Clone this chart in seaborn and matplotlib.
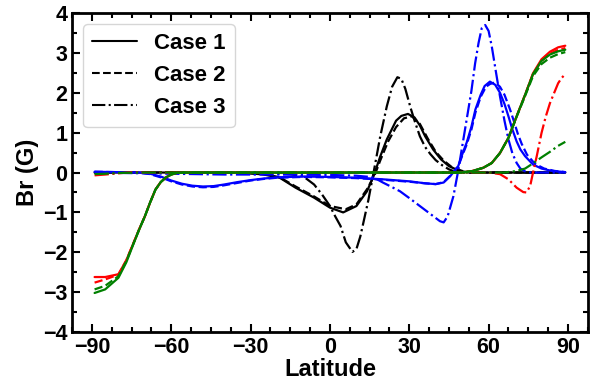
import numpy as np
import pandas as pd
import matplotlib
matplotlib.use("Agg")
import matplotlib.pyplot as plt
import seaborn as sns
from matplotlib.lines import Line2D
from matplotlib.ticker import MultipleLocator

# ---- data (latitude in degrees, Br in gauss) ----
# black
k1_lat = [-89, -40, -30, -25, -19, -13, -6, 0, 5, 10, 14, 16.5, 19, 21.5, 25, 27, 29.5, 32, 34, 36, 39, 42, 45, 49, 53, 89]
k1_br = [0, 0, -0.02, -0.05, -0.13, -0.38, -0.63, -0.88, -1.0, -0.84, -0.47, -0.09, 0.4, 0.83, 1.3, 1.42, 1.47, 1.38, 1.18, 0.91, 0.58, 0.33, 0.16, 0.04, 0.0, 0]
k2_lat = [-89, -35, -25, -19, -13, -6, 0, 6, 10, 14, 17, 19, 22, 25, 28, 31, 34, 37, 40, 43, 46, 50, 54, 89]
k2_br = [0, 0, -0.04, -0.12, -0.35, -0.6, -0.84, -0.92, -0.8, -0.42, -0.05, 0.3, 0.78, 1.14, 1.36, 1.41, 1.22, 0.85, 0.52, 0.3, 0.14, 0.04, 0, 0]
k3_lat = [-89, -25, -15, -10, -6, -3, 0, 2, 4, 6, 8.5, 10, 11.5, 13, 14.5, 16.5, 19, 21.5, 23.5, 25.5, 27, 28.5, 30.5, 32, 34, 36, 38, 40, 42.5, 45, 47, 50, 89]
k3_br = [0, 0, -0.04, -0.1, -0.3, -0.55, -0.84, -1.1, -1.34, -1.75, -1.99, -1.92, -1.6, -1.15, -0.7, 0.0, 0.9, 1.66, 2.15, 2.39, 2.35, 2.1, 1.62, 1.3, 0.91, 0.64, 0.46, 0.31, 0.18, 0.08, 0.03, 0, 0]

# blue
b1_lat = [-89, -72, -68, -64, -60, -56, -52, -48, -44, -40, -35, -30, -25, -20, -10, 0, 10, 20, 30, 36, 40, 43, 45.5, 48.5, 50, 51.7, 53.5, 55, 57, 58.5, 60.5, 62.5, 64.3, 66, 67.5, 69, 70.6, 72, 73.8, 76.8, 80, 84, 89]
b1_br = [0.02, 0.0, -0.03, -0.1, -0.2, -0.28, -0.33, -0.35, -0.34, -0.3, -0.24, -0.19, -0.15, -0.12, -0.1, -0.11, -0.13, -0.17, -0.22, -0.27, -0.29, -0.25, -0.09, 0.16, 0.45, 0.75, 1.15, 1.58, 1.95, 2.17, 2.28, 2.2, 2.0, 1.72, 1.41, 1.08, 0.78, 0.58, 0.41, 0.2, 0.1, 0.04, 0.01]
b2_lat = [-89, -72, -68, -64, -60, -56, -52, -48, -44, -40, -35, -30, -25, -20, -10, 0, 10, 20, 30, 36, 40, 43, 45.5, 48.5, 50, 51.7, 53.5, 55, 57, 59, 60.5, 62.5, 64.3, 66, 68, 69.5, 71, 72.5, 74.5, 77.5, 81, 85, 89]
b2_br = [0.02, 0.0, -0.04, -0.12, -0.22, -0.3, -0.35, -0.37, -0.36, -0.32, -0.26, -0.2, -0.16, -0.13, -0.11, -0.12, -0.14, -0.18, -0.23, -0.27, -0.29, -0.24, -0.08, 0.15, 0.42, 0.7, 1.08, 1.5, 1.9, 2.15, 2.22, 2.26, 2.15, 1.95, 1.6, 1.3, 0.98, 0.72, 0.45, 0.22, 0.1, 0.04, 0.01]
b3_lat = [-89, -60, -40, -20, 0, 10, 15, 17, 20, 23, 26.5, 30, 34, 38, 41.6, 43, 44.5, 46.7, 48.6, 50, 51.7, 53.5, 54.9, 56.2, 57.4, 58.7, 60, 61.2, 62.7, 64.3, 66, 67.5, 69, 70.6, 72, 73.8, 76, 89]
b3_br = [0.0, -0.03, -0.05, -0.05, -0.06, -0.08, -0.11, -0.14, -0.25, -0.35, -0.47, -0.64, -0.84, -1.04, -1.22, -1.25, -1.1, -0.59, 0.08, 0.65, 1.33, 2.05, 2.74, 3.25, 3.62, 3.7, 3.55, 3.16, 2.55, 1.91, 1.3, 0.83, 0.48, 0.24, 0.1, 0.03, 0.0, 0.0]

# red
r1_lat = [-89, -85, -80, -77, -74, -72, -70, -68, -66, -64, -62, -60, -58, -55, 50, 54, 58, 61.2, 64.3, 67.5, 70.6, 73.8, 76.8, 80, 83.2, 86.3, 89]
r1_br = [-2.62, -2.62, -2.55, -2.2, -1.72, -1.4, -1.1, -0.75, -0.43, -0.24, -0.12, -0.05, -0.01, 0, 0, 0.04, 0.12, 0.24, 0.49, 0.87, 1.41, 1.95, 2.49, 2.84, 3.03, 3.14, 3.18]
r2_lat = [-89, -85, -80, -77, -74, -72, -70, -68, -66, -64, -62, -60, -58, -55, 50, 54, 58, 61.2, 64.3, 67.5, 70.6, 73.8, 76.8, 80, 83.2, 86.3, 89]
r2_br = [-2.76, -2.68, -2.56, -2.2, -1.72, -1.4, -1.1, -0.75, -0.43, -0.24, -0.12, -0.05, -0.01, 0, 0, 0.04, 0.12, 0.24, 0.49, 0.87, 1.41, 1.95, 2.47, 2.8, 2.98, 3.08, 3.12]
r3_lat = [-89, -85, -80, -75, -70, 60, 64.3, 67.5, 70.6, 73.1, 74.3, 75.7, 76.8, 78.2, 80, 81.6, 83.2, 84.8, 86.3, 87.6, 89]
r3_br = [-0.07, -0.05, -0.02, 0.01, 0.0, 0.0, -0.04, -0.17, -0.38, -0.49, -0.5, -0.34, 0.0, 0.41, 0.99, 1.4, 1.74, 2.0, 2.24, 2.37, 2.47]

# green
g1_lat = [-89, -85, -80, -77, -74, -72, -70, -68, -66, -64, -62, -60, -58, -55, 50, 54, 58, 61.2, 64.3, 67.5, 70.6, 73.8, 76.8, 80, 83.2, 86.3, 89]
g1_br = [-3.02, -2.93, -2.64, -2.25, -1.74, -1.41, -1.1, -0.75, -0.43, -0.24, -0.12, -0.05, -0.01, 0, 0, 0.04, 0.12, 0.24, 0.49, 0.87, 1.41, 1.95, 2.47, 2.8, 2.96, 3.04, 3.08]
g2_lat = [-89, -85, -80, -77, -74, -72, -70, -68, -66, -64, -62, -60, -58, -55, 50, 54, 58, 61.2, 64.3, 67.5, 70.6, 73.8, 76.8, 80, 83.2, 86.3, 89]
g2_br = [-2.93, -2.84, -2.6, -2.22, -1.73, -1.4, -1.1, -0.75, -0.43, -0.24, -0.12, -0.05, -0.01, 0, 0, 0.04, 0.12, 0.24, 0.49, 0.87, 1.4, 1.92, 2.42, 2.72, 2.88, 2.97, 3.02]
g3_lat = [-89, -85, -80, -70, 66, 70.6, 73.8, 76.8, 80, 83.2, 86.3, 89]
g3_br = [-0.04, -0.03, -0.01, 0.0, 0.0, 0.04, 0.1, 0.23, 0.38, 0.52, 0.67, 0.77]

cases = ["Case 1", "Case 2", "Case 3"]
styles = ["-", "--", "-."]

curves = [
    ("k", [(k1_lat, k1_br), (k2_lat, k2_br), (k3_lat, k3_br)]),
    ("b", [(b1_lat, b1_br), (b2_lat, b2_br), (b3_lat, b3_br)]),
    ("r", [(r1_lat, r1_br), (r2_lat, r2_br), (r3_lat, r3_br)]),
    ("g", [(g1_lat, g1_br), (g2_lat, g2_br), (g3_lat, g3_br)]),
]

sns.set_style("ticks")
plt.rcParams['font.family'] = ['Liberation Sans', 'DejaVu Sans']
plt.rcParams['font.weight'] = 'bold'
plt.rcParams['axes.labelweight'] = 'bold'
# pure black text and ticks, like the original
plt.rcParams['text.color'] = 'k'
plt.rcParams['axes.labelcolor'] = 'k'
plt.rcParams['xtick.color'] = 'k'
plt.rcParams['ytick.color'] = 'k'

fig = plt.figure(figsize=(6.01, 3.83), dpi=100)
ax = fig.add_axes([0.12, 0.133, 0.858, 0.833])

for color, series in curves:
    for (lat, br), ls in zip(series, styles):
        sns.lineplot(x=lat, y=br, color=color, linestyle=ls, linewidth=1.6,
                     estimator=None, legend=False, ax=ax)

ax.set_xlim(-97.5, 97.5)
ax.set_ylim(-4, 4)
ax.xaxis.set_major_locator(MultipleLocator(30))
ax.xaxis.set_minor_locator(MultipleLocator(7.5))
ax.yaxis.set_major_locator(MultipleLocator(1))
ax.yaxis.set_minor_locator(MultipleLocator(0.5))
ax.tick_params(which='both', direction='in', top=True, right=True, labelsize=15.5, width=1.5)
ax.tick_params(which='major', length=6)
ax.tick_params(which='minor', length=3.5)
for sp in ax.spines.values():
    sp.set_linewidth(2)
    sp.set_color('k')

ax.set_xlabel('Latitude', fontsize=17, fontweight='bold', labelpad=0)
ax.set_ylabel('Br (G)', fontsize=17, fontweight='bold', labelpad=3)

handles = [Line2D([], [], color='k', linestyle=ls, linewidth=1.5) for ls in styles]
ax.legend(handles, cases, loc='upper left', prop={'weight': 'bold', 'size': 16})

fig.savefig('out.png', dpi=100)
